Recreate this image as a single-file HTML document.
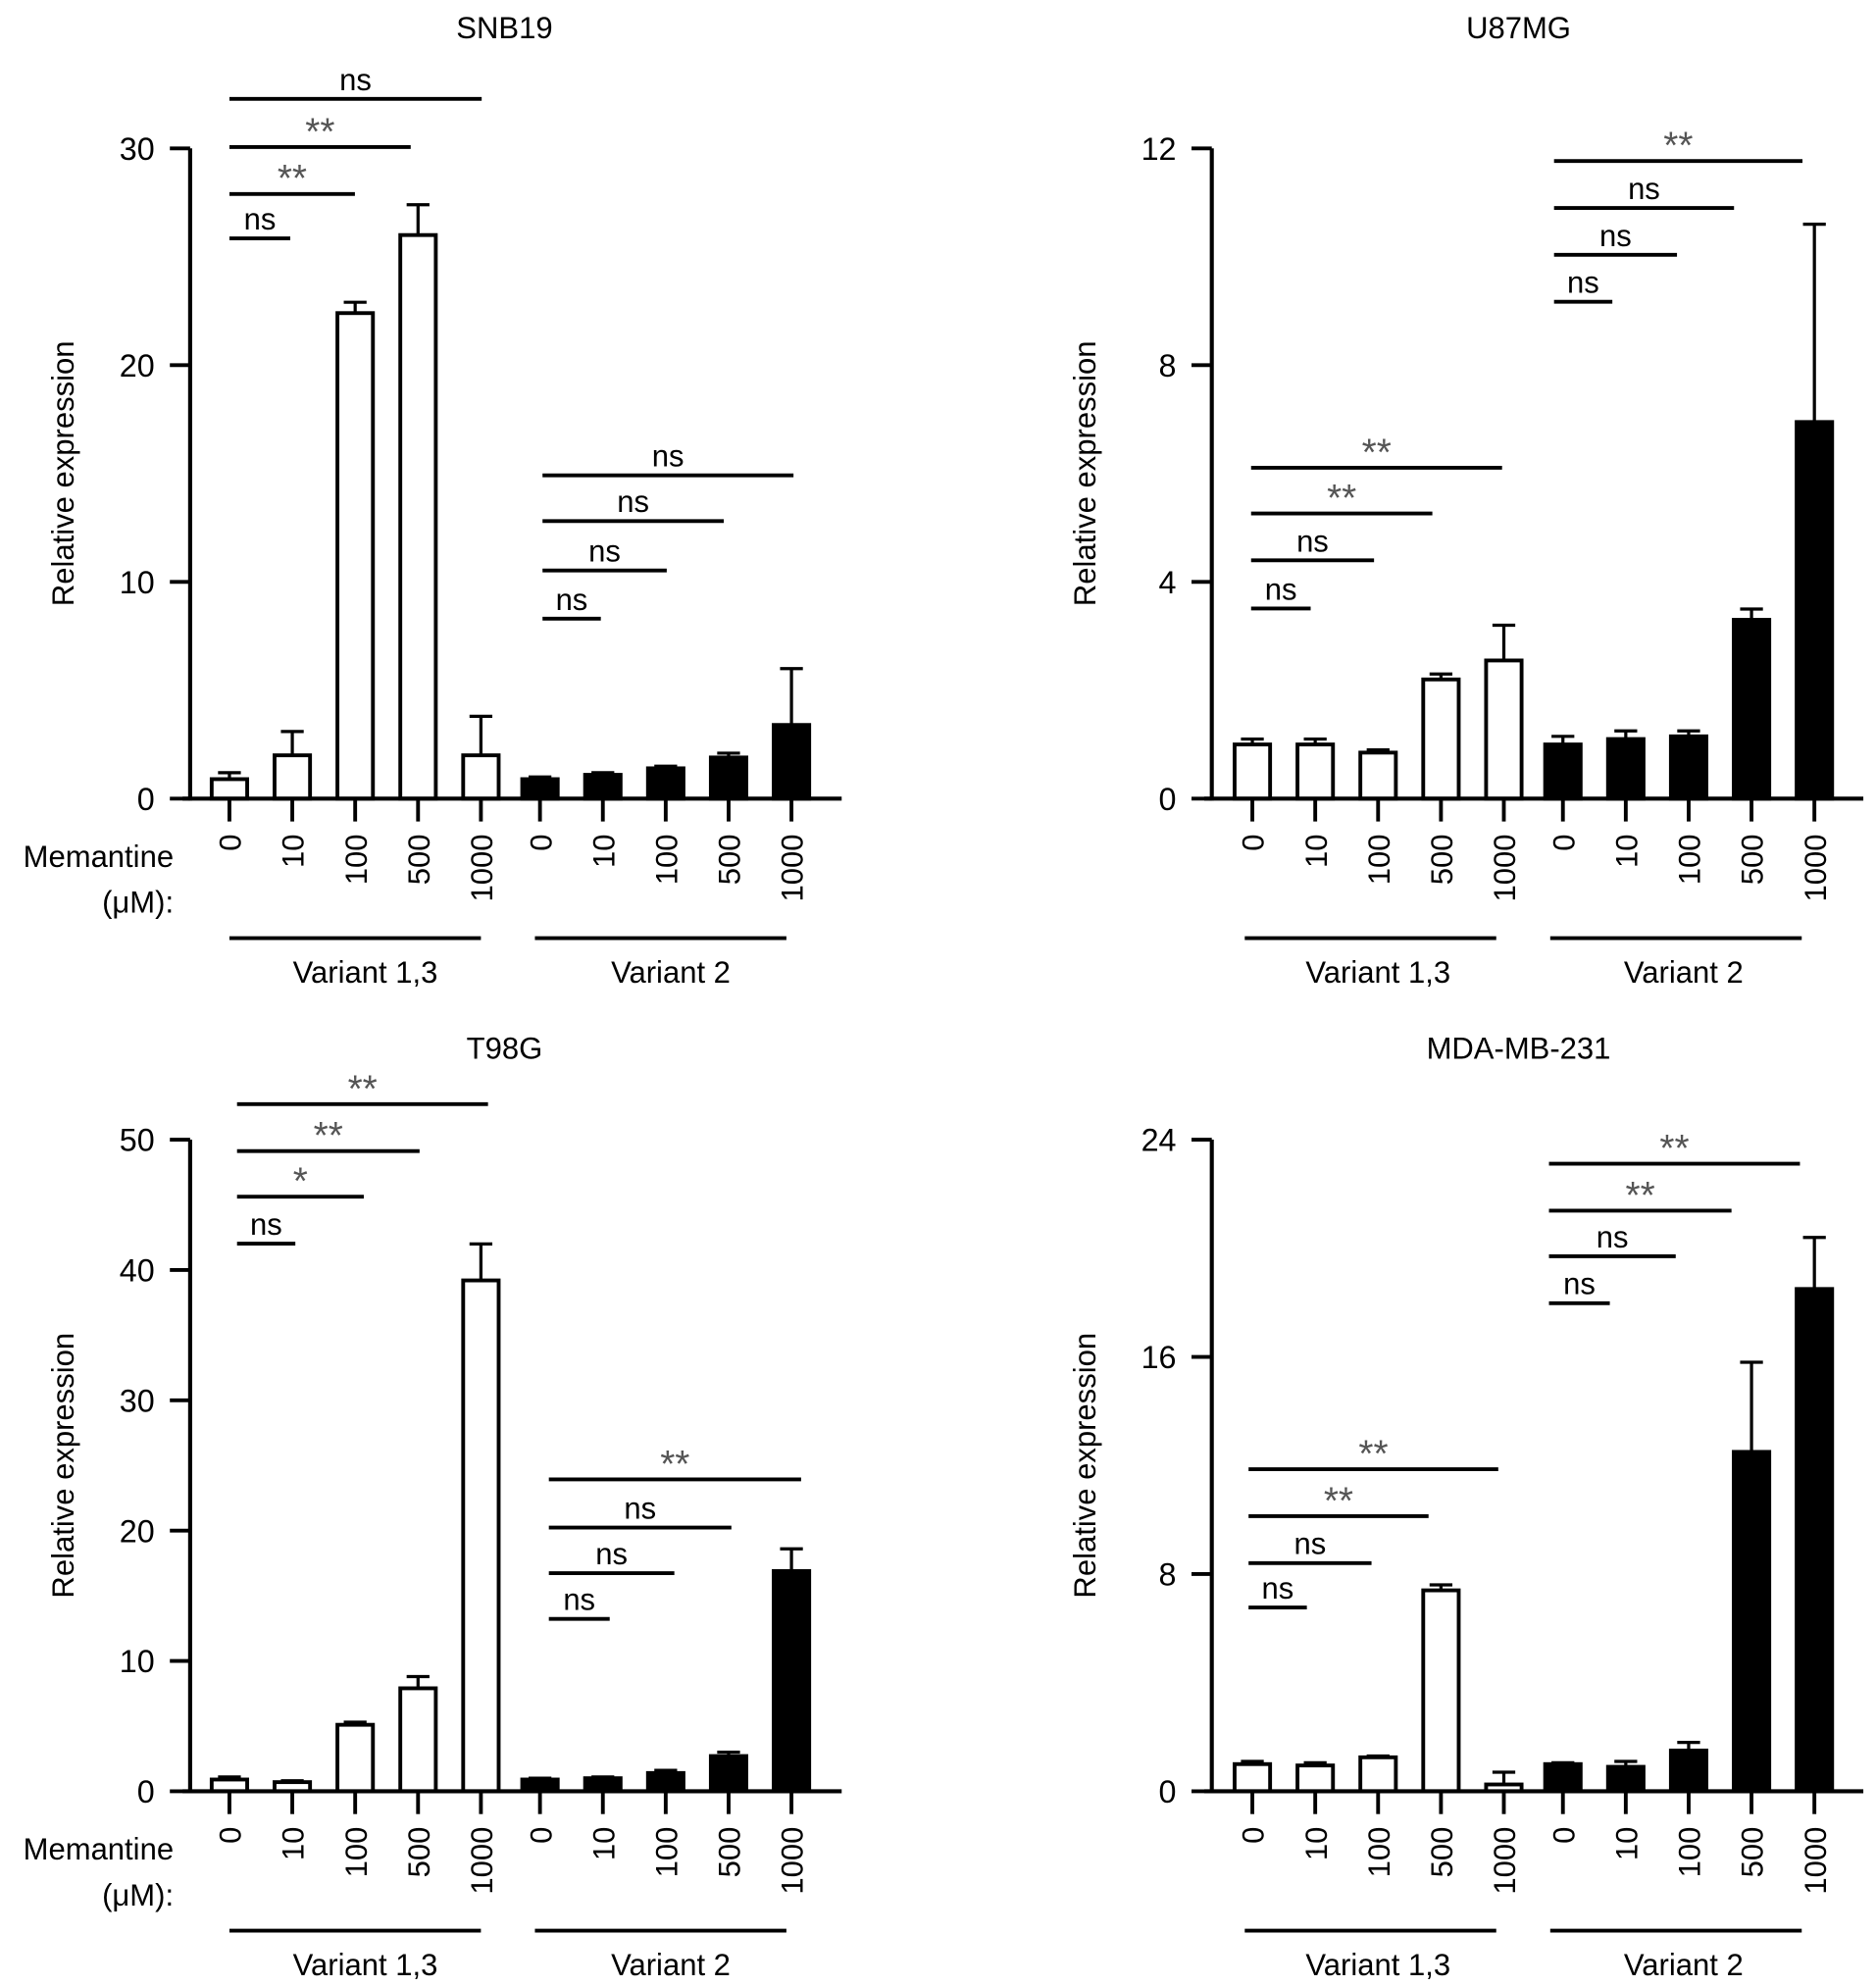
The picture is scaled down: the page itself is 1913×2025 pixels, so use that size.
<!DOCTYPE html>
<html><head><meta charset="utf-8"><style>
html,body{margin:0;padding:0;background:#fff;}
svg{display:block;font-family:"Liberation Sans",Arial,sans-serif;}
</style></head><body>
<svg id="fig" width="1913" height="2025" viewBox="0 0 1480 1566.6" xmlns="http://www.w3.org/2000/svg"></svg>
<script>
const doses = ["0","10","100","500","1000","0","10","100","500","1000"];
const snbValues = [0.9,2,22.4,26,2,0.9,1.1,1.4,1.9,3.4];
const snbErrors = [1.2,3.1,22.9,27.4,3.8,1.0,1.2,1.5,2.1,6.0];
const u87Values = [1.0,1.0,0.85,2.2,2.55,1.0,1.1,1.15,3.3,6.95];
const u87Errors = [1.1,1.1,0.9,2.3,3.2,1.15,1.25,1.25,3.5,10.6];
const t98Values = [0.9,0.7,5.1,7.9,39.2,0.9,1.0,1.4,2.7,16.9];
const t98Errors = [1.1,0.8,5.3,8.8,42,1.0,1.1,1.6,3.0,18.6];
const mdaValues = [1.0,0.95,1.25,7.4,0.25,1.0,0.9,1.5,12.5,18.5];
const mdaErrors = [1.1,1.05,1.3,7.6,0.7,1.05,1.1,1.8,15.8,20.4];
const snbTicks = [0,10,20,30];
const u87Ticks = [0,4,8,12];
const t98Ticks = [0,10,20,30,40,50];
const mdaTicks = [0,8,16,24];

const NS="http://www.w3.org/2000/svg";
const svg=document.getElementById('fig');
function mk(tag,attrs,parent){const e=document.createElementNS(NS,tag);for(const k in attrs)e.setAttribute(k,attrs[k]);(parent||svg).appendChild(e);return e;}

const panels=[
 {title:"SNB19",name:"snb19",vals:snbValues,errs:snbErrors,ticks:snbTicks,ax:150,y0:630,ytop:117,x0:181,tx:398,ty:30,mem:true,
  br:[["ns",188,181,229],["**",153,181,280],["**",116,181,324],["ns",78,181,380],["ns",488,428,474],["ns",450,428,526],["ns",411,428,571],["ns",375,428,626]]},
 {title:"U87MG",name:"u87mg",vals:u87Values,errs:u87Errors,ticks:u87Ticks,ax:956,y0:630,ytop:117,x0:988,tx:1198,ty:30,mem:false,
  br:[["ns",480,987,1034],["ns",442,987,1084],["**",405,987,1130],["**",369,987,1185],["ns",238,1226,1272],["ns",201,1226,1323],["ns",164,1226,1368],["**",127,1226,1422]]},
 {title:"T98G",name:"t98g",vals:t98Values,errs:t98Errors,ticks:t98Ticks,ax:150,y0:1413,ytop:899,x0:181,tx:398,ty:835,mem:true,
  br:[["ns",981,187,233],["*",944,187,287],["**",908,187,331],["**",871,187,385],["ns",1277,433,481],["ns",1241,433,532],["ns",1205,433,577],["**",1167,433,632]]},
 {title:"MDA-MB-231",name:"mda-mb-231",vals:mdaValues,errs:mdaErrors,ticks:mdaTicks,ax:956,y0:1413,ytop:899,x0:988,tx:1198,ty:835,mem:false,
  br:[["ns",1268,985,1031],["ns",1233,985,1082],["**",1196,985,1127],["**",1159,985,1182],["ns",1028,1222,1270],["ns",991,1222,1322],["**",955,1222,1366],["**",918,1222,1420]]}
];

panels.forEach(p=>{
 const g=mk('g',{});
 
 
 const ymax=p.ticks[p.ticks.length-1];
 const y=v=>p.y0-(v/ymax)*(p.y0-p.ytop);
 const x=i=>p.x0+i*49.6+(i>=5?-3:0);
 const t=mk('text',{x:p.tx,y:p.ty,'font-size':24,'text-anchor':'middle'},g);t.textContent=p.title;
 
 const yt=mk('text',{x:0,y:0,'font-size':24,'text-anchor':'middle',transform:`translate(${p.ax-92},${(p.y0+p.ytop)/2}) rotate(-90)`},g);
 yt.textContent="Relative expression";
 
 p.vals.forEach((v,i)=>{
  const cx=x(i),w=31;
  const el=mk('line',{x1:cx,x2:cx,y1:y(v),y2:y(p.errs[i]),stroke:'#000','stroke-width':2.5},g);
  
  const cap=mk('line',{x1:cx-9,x2:cx+9,y1:y(p.errs[i]),y2:y(p.errs[i]),stroke:'#000','stroke-width':2.5},g);
  
  const b=mk('rect',{x:cx-w/2+1.5,y:y(v),width:w-3,height:Math.max(0,p.y0-y(v)),fill:i<5?'#fff':'#000',stroke:'#000','stroke-width':3},g);
  
  const tk=mk('line',{x1:cx,x2:cx,y1:p.y0,y2:p.y0+18,stroke:'#000','stroke-width':3},g);
  
  const lb=mk('text',{x:0,y:0,'font-size':24,'text-anchor':'end',transform:`translate(${cx+9},${p.y0+28}) rotate(-90)`},g);
  lb.textContent=doses[i];
  
 });
 const ya=mk('line',{x1:p.ax,x2:p.ax,y1:p.ytop,y2:p.y0+1.5,stroke:'#000','stroke-width':3.2},g);
 
 const xa=mk('line',{x1:p.ax-6,x2:p.ax+514,y1:p.y0,y2:p.y0,stroke:'#000','stroke-width':3.2},g);
 
 p.ticks.forEach(tv=>{
  const l=mk('line',{x1:p.ax-16,x2:p.ax,y1:y(tv),y2:y(tv),stroke:'#000','stroke-width':3},g);
  
  const tl=mk('text',{x:p.ax-28,y:y(tv)+9,'font-size':25,'text-anchor':'end'},g);tl.textContent=tv;
  
 });
 p.br.forEach(b=>{
  const l=mk('line',{x1:b[2],x2:b[3],y1:b[1],y2:b[1],stroke:'#000','stroke-width':3},g);
  
  const st=b[0]!=="ns";
  const tt=mk('text',{x:(b[2]+b[3])/2,y:b[1]+(st?-2:-7),'font-size':st?30:24,'text-anchor':'middle',fill:st?'#555':'#000'},g);
  tt.textContent=b[0];
  
 });
 const gy=p.y0+110;
 [[x(0),x(4)],[x(5)-4,x(9)-4]].forEach((r,k)=>{
  const l=mk('line',{x1:r[0]-(p.mem?0:6),x2:r[1]-(p.mem?0:6),y1:gy,y2:gy,stroke:'#000','stroke-width':3},g);
  
  const tt=mk('text',{x:(r[0]+r[1])/2+(p.mem?8:0),y:gy+35,'font-size':24,'text-anchor':'middle'},g);
  tt.textContent=k===0?"Variant 1,3":"Variant 2";
  
 });
 if(p.mem){
  const m=mk('text',{x:137,y:p.y0+54,'font-size':24,'text-anchor':'end'},g);m.textContent="Memantine";
  
  const m2=mk('text',{x:137,y:p.y0+90,'font-size':24,'text-anchor':'end'},g);m2.textContent="(μM):";
  
 }
});
</script>
</body></html>
